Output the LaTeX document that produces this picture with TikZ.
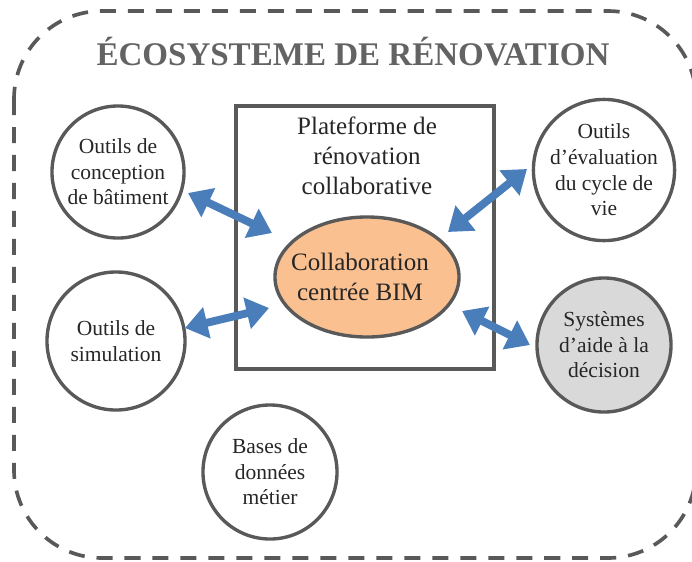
\documentclass[tikz,border=0pt]{standalone}
\usepackage{fontspec}
\setmainfont{Liberation Serif}
\usetikzlibrary{positioning, arrows.meta, shapes.geometric}
\definecolor{bordgris}{HTML}{595959}
\definecolor{titregris}{HTML}{636363}
\definecolor{textegris}{HTML}{262626}
\definecolor{bleufl}{HTML}{4A7EBB}
\definecolor{orangecl}{HTML}{FAC090}
\definecolor{grisclair}{HTML}{D9D9D9}
\tikzset{
  outil/.style={circle, draw=bordgris, line width=2.4pt, inner sep=0pt, align=center, text=textegris, font=\fontsize{15.3}{18.2}\selectfont},
  fleche/.style={{Triangle[length=16pt,width=22pt]}-{Triangle[length=16pt,width=22pt]}, bleufl, line width=5.6pt},
}

\begin{document}
\begin{tikzpicture}[x=0.025cm, y=-0.025cm]
    \useasboundingbox (0,0) rectangle (692,561);
    % cadre de l'ecosysteme
    \draw[bordgris, line width=2.6pt, dash pattern=on 11.4pt off 8.5pt, rounded corners=2.2cm] (14,11) rectangle (696,558);
    \node[text=titregris, font=\fontsize{23.5}{26}\selectfont\bfseries] (titre) at (353,52) {ÉCOSYSTEME DE RÉNOVATION};

    % plateforme
    \node[draw=bordgris, line width=2.2pt, minimum width=6.45cm, minimum height=6.575cm, inner sep=0pt] (plateforme) at (365,237.5) {};
    \node[align=center, text=textegris, font=\fontsize{17.8}{21.3}\selectfont] (plattexte) at (367,156) {Plateforme de\\ rénovation\\ collaborative};
    \node[ellipse, draw=bordgris, line width=2.4pt, fill=orangecl, minimum width=4.6cm, minimum height=3cm, inner sep=0pt] (collab) at (367,277) {};
    \node[align=center, text=textegris, font=\fontsize{17.8}{21.3}\selectfont] (collabtexte) at (360,277) {Collaboration\\ centrée BIM};

    % outils autour
    \node[outil, minimum size=3.3cm] (conception) at (118,172) {Outils de\\ conception\\ de bâtiment};
    \node[outil, minimum size=3.45cm] (simulation) at (116,341) {Outils de\\ simulation};
    \node[outil, minimum size=3.35cm] (bases) at (270,472) {Bases de\\ données\\ métier};
    \node[outil, minimum size=3.35cm] (evaluation) at (604,170) {Outils\\ d’évaluation\\ du cycle de\\ vie};
    \node[outil, minimum size=3.35cm, fill=grisclair] (decision) at (604,345) {Systèmes\\ d’aide à la\\ décision};

    % extremites des fleches
    \coordinate (f1a) at (188,193);
    \coordinate (f1b) at (272,233);
    \coordinate (f2a) at (527,169);
    \coordinate (f2b) at (448,232);
    \coordinate (f3a) at (462,311);
    \coordinate (f3b) at (530,345);
    \coordinate (f4a) at (185,328);
    \coordinate (f4b) at (269,308);
    \foreach \i in {1,2,3,4} {
      \draw[fleche] (f\i a) -- (f\i b);
    }
\end{tikzpicture}
\end{document}
